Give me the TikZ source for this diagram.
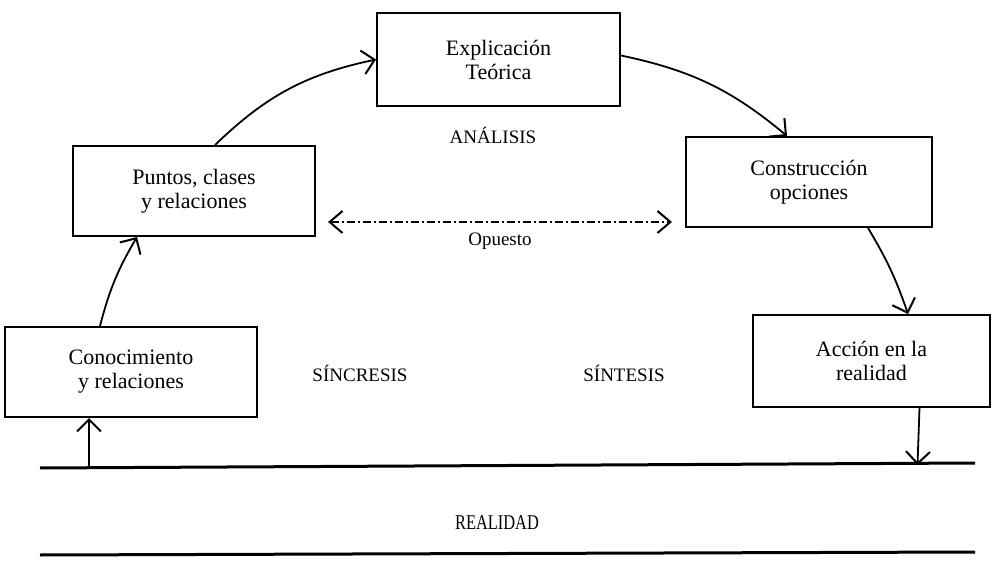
\documentclass[tikz,border=0pt]{standalone}
\usepackage{fontspec}
\setmainfont{Liberation Serif}
\usetikzlibrary{arrows.meta}
\tikzset{
  box/.style={draw, line width=2pt, minimum width=241pt, minimum height=90pt,
    align=center, font=\fontsize{22}{24}\selectfont, inner sep=0pt},
  lbl/.style={font=\fontsize{19}{21}\selectfont, inner sep=0pt},
  arr/.style={line width=1.8pt, -{Straight Barb[length=12pt,width=24pt,line width=2pt]}},
  opp/.style={line width=1.4pt, dash pattern=on 8pt off 3pt on 2pt off 3pt,
    {Straight Barb[length=13pt,width=22pt,line width=2pt]}-{Straight Barb[length=13pt,width=22pt,line width=2pt]}},
  ground/.style={line width=3pt}
}
\begin{document}
\begin{tikzpicture}[x=1pt,y=-1pt]
\useasboundingbox (0,0) rectangle (994,580);
\fill[white] (0,0) rectangle (994,580);

\node[box, minimum width=243pt, minimum height=93pt] (exp) at (498.5,59.5) {Explicación\\Teórica};
\node[box, minimum width=242pt, minimum height=90pt] (puntos) at (194,191) {Puntos, clases\\y relaciones};
\node[box, minimum width=246pt, minimum height=90pt] (constr) at (809,182) {Construcción\\opciones};
\node[box, minimum width=252pt, minimum height=90pt] (conoc) at (131,372) {Conocimiento\\y relaciones};
\node[box, minimum width=237pt, minimum height=92pt] (accion) at (871.5,361) {Acción en la\\realidad};

\node[lbl] (analisis) at (493,135) {ANÁLISIS};
\node[lbl] (opuesto) at (500,241) {Opuesto};
\node[lbl] (sincresis) at (360,373) {SÍNCRESIS};
\node[lbl] (sintesis) at (624,373) {SÍNTESIS};
\node[lbl] (realidad) at (497,523) {\fontsize{21}{23}\selectfont\scalebox{0.78}[1]{REALIDAD}};

\coordinate (tl) at (40,468);
\coordinate (tr) at (975,463);
\coordinate (bl) at (40,555);
\coordinate (br) at (975,552);
\draw[ground] (tl) -- (tr);
\draw[ground] (bl) -- (br);

\coordinate (oL) at (328,222);
\coordinate (oR) at (672,222);
\draw[opp] (oL) -- (oR);

\draw[arr] ([xshift=-31pt]conoc.north) to[bend left=8] ([xshift=-57pt]puntos.south);
\draw[arr] ([xshift=21pt]puntos.north) to[bend left=16] (exp.west);
\draw[arr] ([yshift=4pt]exp.east) to[bend left=14] ([xshift=-22pt]constr.north);
\draw[arr] ([xshift=59pt]constr.south) to[bend left=6] ([xshift=36.5pt]accion.north);
\draw[arr] ([xshift=48pt]accion.south) -- ++(-2,57);
\draw[arr] ([xshift=-42pt]conoc.south |- tl) -- ([xshift=-42pt]conoc.south);
\end{tikzpicture}
\end{document}
